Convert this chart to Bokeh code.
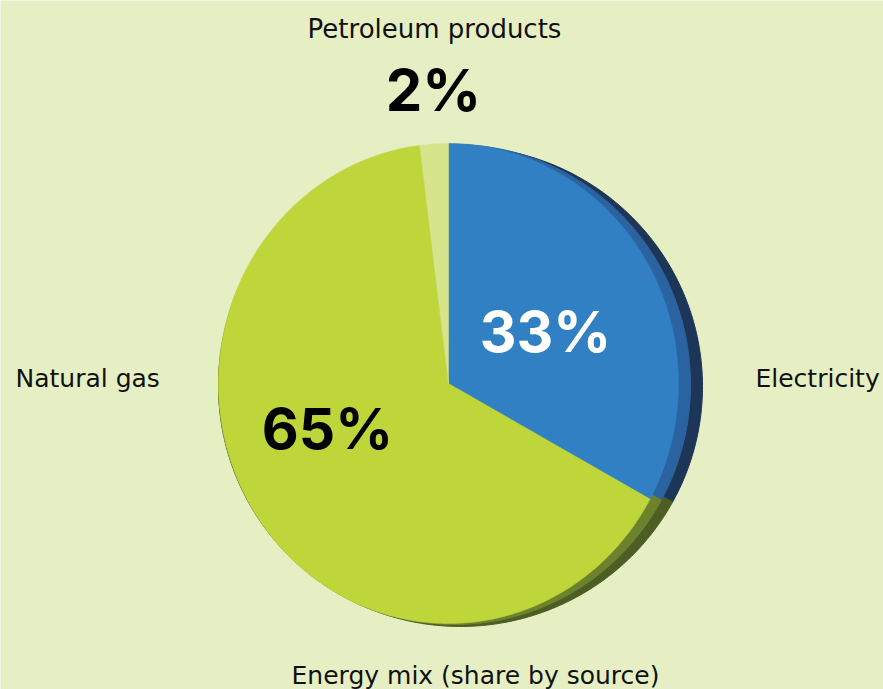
import numpy as np
from bokeh.plotting import figure
from bokeh.models import Range1d
from bokeh.core.properties import value
from bokeh.embed import file_html
from bokeh.resources import INLINE

# ---- data ----
categories = ["Electricity", "Natural gas", "Petroleum products"]
shares = [33, 65, 2]
face_colors = ["#3180c4", "#bfd63a", "#d6e48c"]
side_mid_colors = ["#2b63a0", "#6c822c", "#9fb050"]
side_dark_colors = ["#1d3556", "#4c5e24", "#6c7a30"]
title = "Energy mix (share by source)"

W, H = 883, 689
BG = "#e6efc4"
FONT = "DejaVu Sans"
BOLD_FONT = "Inter"

frac = np.array(shares, dtype=float) / sum(shares)
cum = np.concatenate([[0.0], np.cumsum(frac)])
t_start = np.pi / 2 - 2 * np.pi * cum[:-1]
t_end = np.pi / 2 - 2 * np.pi * cum[1:]


def slice_patches(cx, cy, rx, ry):
    xs, ys = [], []
    for a, b in zip(t_start, t_end):
        n = max(int(abs(b - a) / (2 * np.pi) * 400), 8)
        t = np.linspace(a, b, n)
        xs.append(np.concatenate([[cx], cx + rx * np.cos(t)]))
        ys.append(np.concatenate([[cy], cy + ry * np.sin(t)]))
    return xs, ys


p = figure(width=W, height=H, output_backend="svg", toolbar_location=None,
           x_range=Range1d(0, W), y_range=Range1d(0, H), min_border=0)
p.axis.visible = False
p.grid.visible = False
p.outline_line_color = None
p.background_fill_color = BG
p.border_fill_color = BG

cx, cy, rx, ry = 448, H - 383, 230, 240

# side (3D rim), darkest layer first
xs, ys = slice_patches(cx + 12, cy - 3, rx + 12, ry)
p.patches(xs=xs, ys=ys, fill_color=side_dark_colors, line_color=side_dark_colors)
xs, ys = slice_patches(cx + 6, cy - 1, rx + 6, ry)
p.patches(xs=xs, ys=ys, fill_color=side_mid_colors, line_color=side_mid_colors)

# top face
xs, ys = slice_patches(cx, cy, rx, ry)
p.patches(xs=xs, ys=ys, fill_color=face_colors, line_color=face_colors, line_width=0.5)

pct = [f"{v}%" for v in shares]

# percentage labels
p.text(x=[545], y=[H - 331], text=[pct[0]], text_font=value(BOLD_FONT), text_font_style="bold",
       text_font_size="57px", text_color="white", text_align="center", text_baseline="middle")
p.text(x=[327], y=[H - 428], text=[pct[1]], text_font=value(BOLD_FONT), text_font_style="bold",
       text_font_size="57px", text_color="black", text_align="center", text_baseline="middle")
p.text(x=[433], y=[H - 89], text=[pct[2]], text_font=value(BOLD_FONT), text_font_style="bold",
       text_font_size="58px", text_color="black", text_align="center", text_baseline="middle")

# category labels
p.text(x=[434], y=[H - 28], text=[categories[2]], text_font=value(FONT),
       text_font_size="26px", text_color="#111111", text_align="center", text_baseline="middle")
p.text(x=[15], y=[H - 378], text=[categories[1]], text_font=value(FONT),
       text_font_size="25px", text_color="#111111", text_align="left", text_baseline="middle")
p.text(x=[755], y=[H - 378], text=[categories[0]], text_font=value(FONT),
       text_font_size="25px", text_color="#111111", text_align="left", text_baseline="middle")
p.text(x=[475], y=[H - 675], text=[title], text_font=value(FONT),
       text_font_size="25px", text_color="#111111", text_align="center", text_baseline="middle")

open("out.html", "w").write(file_html(p, INLINE))
